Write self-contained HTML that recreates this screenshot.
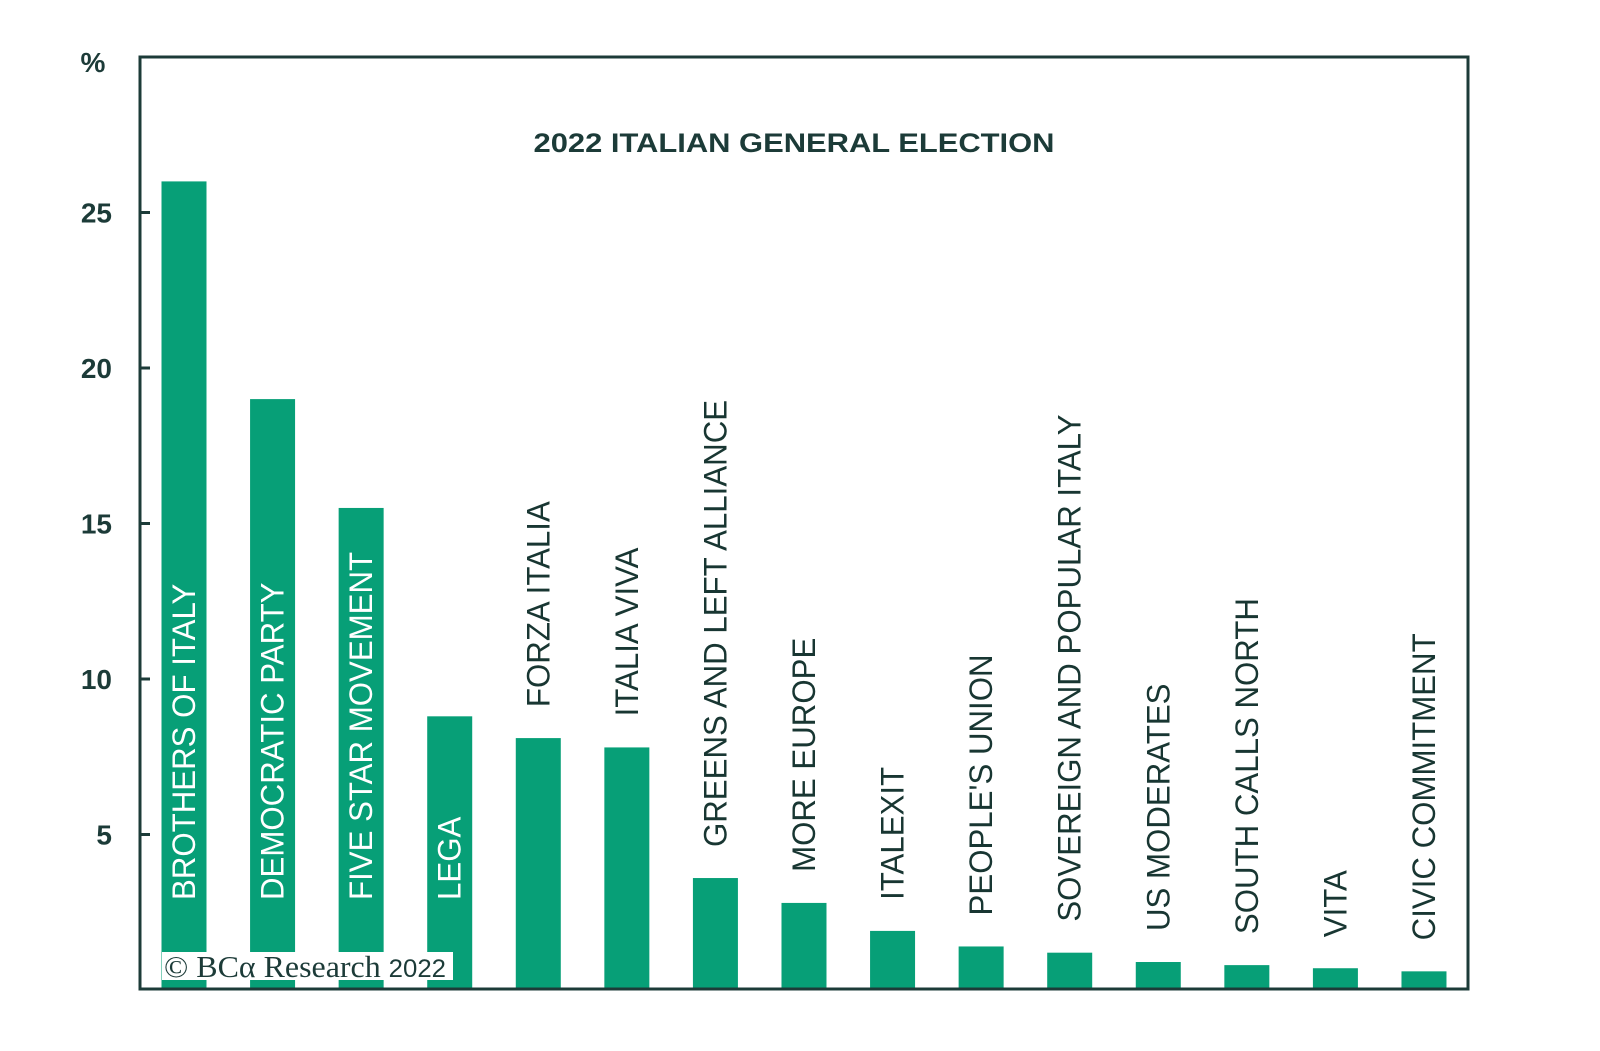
<!DOCTYPE html>
<html><head><meta charset="utf-8"><style>
html,body{margin:0;padding:0;background:#fff;}
svg{display:block;font-family:"Liberation Sans",sans-serif;}
</style></head><body>
<svg id="chart" width="1600" height="1051" viewBox="0 0 1600 1051">
<rect x="0" y="0" width="1600" height="1051" fill="#fff"/>
<g id="bars"></g>
<g id="labels"></g>
<g id="yaxis"></g>
<rect x="140" y="57" width="1328" height="932" fill="none" stroke="#1c3b38" stroke-width="3"/>
<text x="93" y="72" text-anchor="middle" font-size="28" font-weight="bold" fill="#1c3b38">%</text>
<text x="794" y="152" text-anchor="middle" font-size="27" font-weight="bold" fill="#1c3b38" textLength="521" lengthAdjust="spacingAndGlyphs">2022 ITALIAN GENERAL ELECTION</text>
<g>
<rect x="162" y="952" width="291" height="28" fill="#fff"/>
<text x="164" y="977" font-family="'Liberation Serif',serif" font-size="31" fill="#1c3b38" textLength="282" lengthAdjust="spacingAndGlyphs">© BCα Research <tspan font-family="'Liberation Sans',sans-serif" font-size="25">2022</tspan></text>
</g>
</svg>
<script>
const categories = ["BROTHERS OF ITALY","DEMOCRATIC PARTY","FIVE STAR MOVEMENT","LEGA","FORZA ITALIA","ITALIA VIVA","GREENS AND LEFT ALLIANCE","MORE EUROPE","ITALEXIT","PEOPLE'S UNION","SOVEREIGN AND POPULAR ITALY","US MODERATES","SOUTH CALLS NORTH","VITA","CIVIC COMMITMENT"];
const values = [26.0,19.0,15.5,8.8,8.1,7.8,3.6,2.8,1.9,1.4,1.2,0.9,0.8,0.7,0.6];
const labelInside = [true,true,true,true,false,false,false,false,false,false,false,false,false,false,false];
const yTicks = [5,10,15,20,25];
const tickLabels = ["5","10","15","20","25"];

const NS="http://www.w3.org/2000/svg";
const y0=990, perUnit=31.1;
function yScale(v){return y0 - v*perUnit;}
const firstX=184, step=88.57, bw=45;
function xScale(i){return firstX + i*step;}
const barsG=document.getElementById('bars');
const labG=document.getElementById('labels');
const axG=document.getElementById('yaxis');

values.forEach((v,i)=>{
  const r=document.createElementNS(NS,'rect');
  r.setAttribute('x',xScale(i)-bw/2);
  r.setAttribute('y',yScale(v));
  r.setAttribute('width',bw);
  r.setAttribute('height',y0-yScale(v));
  r.setAttribute('fill','#079f77');
  
  
  barsG.appendChild(r);
});

const probe=document.createElementNS(NS,'text');
probe.setAttribute('font-size','32');
probe.textContent='SOUTH CALLS NORTH';
labG.appendChild(probe);
const factor=336/probe.getComputedTextLength();
labG.removeChild(probe);

categories.forEach((c,i)=>{
  const t=document.createElementNS(NS,'text');
  const cx=xScale(i)+11;
  const by=labelInside[i]?900:yScale(values[i])-31;
  t.setAttribute('x',0);t.setAttribute('y',0);
  t.setAttribute('transform','translate('+cx+','+by+') rotate(-90)');
  t.setAttribute('font-size','32');
  t.setAttribute('fill',labelInside[i]?'#ffffff':'#183632');
  t.textContent=c;
  labG.appendChild(t);
  const L=t.getComputedTextLength();
  t.setAttribute('textLength',L*factor);
  t.setAttribute('lengthAdjust','spacingAndGlyphs');
  
  
});

yTicks.forEach((v,i)=>{
  const l=document.createElementNS(NS,'line');
  l.setAttribute('x1',140);l.setAttribute('x2',150);
  l.setAttribute('y1',yScale(v));l.setAttribute('y2',yScale(v));
  l.setAttribute('stroke','#1c3b38');l.setAttribute('stroke-width','3');
  
  
  axG.appendChild(l);
  const t=document.createElementNS(NS,'text');
  t.setAttribute('x',112);t.setAttribute('y',yScale(v)+10);
  t.setAttribute('text-anchor','end');
  t.setAttribute('font-size','28');t.setAttribute('font-weight','bold');
  t.setAttribute('fill','#1c3b38');
  t.textContent=tickLabels[i];
  
  
  axG.appendChild(t);
});
</script>
</body></html>
